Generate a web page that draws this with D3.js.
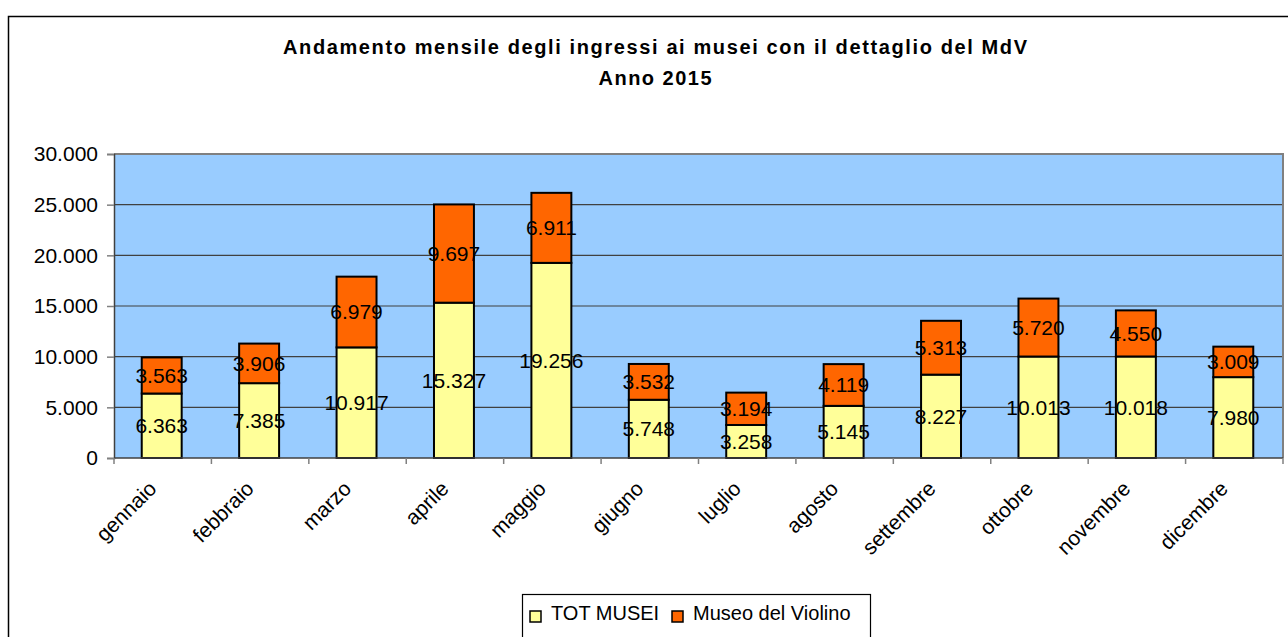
<!DOCTYPE html>
<html>
<head>
<meta charset="utf-8">
<script src="https://cdn.jsdelivr.net/npm/d3@7"></script>
<style>
  body { margin: 0; background: #fff; }
  svg { display: block; font-family: 'Liberation Sans', Arial, sans-serif; }
</style>
</head>
<body>
<div id="chart"></div>
<script>
// monthly museum entries, 2015 - stacked: TOT MUSEI + Museo del Violino
const months = ['gennaio', 'febbraio', 'marzo', 'aprile', 'maggio', 'giugno', 'luglio', 'agosto', 'settembre', 'ottobre', 'novembre', 'dicembre'];
const totMusei = [6363, 7385, 10917, 15327, 19256, 5748, 3258, 5145, 8227, 10013, 10018, 7980];
const museoViolino = [3563, 3906, 6979, 9697, 6911, 3532, 3194, 4119, 5313, 5720, 4550, 3009];
const seriesNames = ['TOT MUSEI', 'Museo del Violino'];
const yTicks = [0, 5000, 10000, 15000, 20000, 25000, 30000];

const width = 1288;
const height = 637;
const plot = { left: 114, right: 1283, top: 154, bottom: 458 };
const colors = { tot: '#ffff99', mdv: '#ff6600', bg: '#99ccff' };
const labelSize = 21;

// italian style thousands separator
const fmt = function(d) {
  return d3.format(',')(d).replace(/,/g, '.');
};

const svg = d3.select('#chart')
  .append('svg')
  .attr('width', width)
  .attr('height', height)
  .attr('style', 'background-color:white');

// chart frame (right and bottom edges run off the picture)
svg.append('rect')
  .attr('x', 8.5).attr('y', 16.5)
  .attr('width', 1300).attr('height', 700)
  .attr('fill', 'white').attr('stroke', 'black').attr('stroke-width', 1.5);

// title
svg.append('text')
  .attr('x', 655).attr('y', 54)
  .attr('text-anchor', 'middle')
  .attr('font-size', 20).attr('font-weight', 'bold')
  .attr('textLength', 744).attr('lengthAdjust', 'spacing')
  .text('Andamento mensile degli ingressi ai musei con il dettaglio del MdV');
svg.append('text')
  .attr('x', 655).attr('y', 85)
  .attr('text-anchor', 'middle')
  .attr('font-size', 20).attr('font-weight', 'bold')
  .attr('textLength', 113).attr('lengthAdjust', 'spacing')
  .text('Anno 2015');

const x = d3.scaleBand().domain(months).range([plot.left, plot.right]).padding(0);
const y = d3.scaleLinear().domain([0, 30000]).range([plot.bottom, plot.top]);
const barW = x.bandwidth() * 0.41;

// plot background
svg.append('rect')
  .attr('x', plot.left).attr('y', plot.top)
  .attr('width', plot.right - plot.left).attr('height', plot.bottom - plot.top)
  .attr('fill', colors.bg);

// gridlines
svg.append('g')
  .selectAll('line')
  .data(yTicks.filter(d => d > 0 && d < 30000))
  .enter()
  .append('line')
  .attr('x1', plot.left).attr('x2', plot.right)
  .attr('y1', d => y(d)).attr('y2', d => y(d))
  .attr('stroke', '#404040').attr('stroke-width', 1.2);

// top + right border of plot area
svg.append('path')
  .attr('d', 'M' + plot.left + ',' + plot.top + 'H' + plot.right + 'V' + plot.bottom)
  .attr('fill', 'none').attr('stroke', '#808080').attr('stroke-width', 2);

// y axis
const yAxis = svg.append('g')
  .attr('transform', 'translate(' + plot.left + ',0)')
  .call(d3.axisLeft(y).tickValues(yTicks).tickSize(7).tickPadding(9).tickFormat(fmt));
yAxis.select('.domain').attr('stroke', '#404040').attr('stroke-width', 1.5);
yAxis.selectAll('.tick line').attr('stroke', '#808080').attr('stroke-width', 1.5);
yAxis.selectAll('.tick text')
  .attr('font-size', labelSize).attr('fill', 'black')
  .attr('font-family', "'Liberation Sans', Arial, sans-serif");

// bars: stacked yellow (TOT MUSEI) + orange (Museo del Violino)
const stackData = months.map((m, i) => ({ month: m, tot: totMusei[i], mdv: museoViolino[i] }));
const bars = svg.append('g')
  .selectAll('g')
  .data(stackData)
  .enter()
  .append('g');
bars.append('rect')
  .attr('x', d => x(d.month) + x.bandwidth() / 2 - barW / 2 - 1)
  .attr('y', d => y(d.tot))
  .attr('width', barW)
  .attr('height', d => y(0) - y(d.tot))
  .attr('fill', colors.tot).attr('stroke', 'black').attr('stroke-width', 2);
bars.append('rect')
  .attr('x', d => x(d.month) + x.bandwidth() / 2 - barW / 2 - 1)
  .attr('y', d => y(d.tot + d.mdv))
  .attr('width', barW)
  .attr('height', d => y(d.tot) - y(d.tot + d.mdv))
  .attr('fill', colors.mdv).attr('stroke', 'black').attr('stroke-width', 2);

// x axis line + category boundary ticks
svg.append('line')
  .attr('x1', plot.left).attr('x2', plot.right)
  .attr('y1', plot.bottom).attr('y2', plot.bottom)
  .attr('stroke', '#404040').attr('stroke-width', 1.5);
const bounds = months.map(m => x(m)).concat([plot.right]);
svg.append('g')
  .selectAll('line')
  .data(bounds)
  .enter()
  .append('line')
  .attr('x1', d => d).attr('x2', d => d)
  .attr('y1', plot.bottom).attr('y2', plot.bottom + 6)
  .attr('stroke', '#808080').attr('stroke-width', 1.5);

// rotated month labels
svg.append('g')
  .selectAll('text')
  .data(months)
  .enter()
  .append('text')
  .attr('transform', d => 'translate(' + (x(d) + x.bandwidth() / 2 - 5) + ',' + (plot.bottom + 32) + ') rotate(-45)')
  .attr('text-anchor', 'end')
  .attr('font-size', labelSize)
  .text(d => d);

// data labels, centred in each segment
bars.append('text')
  .attr('x', d => x(d.month) + x.bandwidth() / 2 - 1)
  .attr('y', d => y(d.tot / 2))
  .attr('dy', '0.35em')
  .attr('text-anchor', 'middle')
  .attr('font-size', labelSize)
  .text(d => fmt(d.tot));
bars.append('text')
  .attr('x', d => x(d.month) + x.bandwidth() / 2 - 1)
  .attr('y', d => y(d.tot + d.mdv / 2))
  .attr('dy', '0.35em')
  .attr('text-anchor', 'middle')
  .attr('font-size', labelSize)
  .text(d => fmt(d.mdv));

// legend
const legend = svg.append('g');
legend.append('rect')
  .attr('x', 522.5).attr('y', 594.5)
  .attr('width', 348).attr('height', 80)
  .attr('fill', 'white').attr('stroke', 'black').attr('stroke-width', 1.2);
const legendItems = [
  { name: seriesNames[0], color: colors.tot, x: 530 },
  { name: seriesNames[1], color: colors.mdv, x: 672 },
];
legendItems.forEach(function(item) {
  legend.append('rect')
    .attr('x', item.x).attr('y', 611)
    .attr('width', 11).attr('height', 11)
    .attr('fill', item.color).attr('stroke', 'black').attr('stroke-width', 1.5);
  legend.append('text')
    .attr('x', item.x + 21).attr('y', 620)
    .attr('font-size', 20)
    .text(item.name);
});
</script>
</body>
</html>
